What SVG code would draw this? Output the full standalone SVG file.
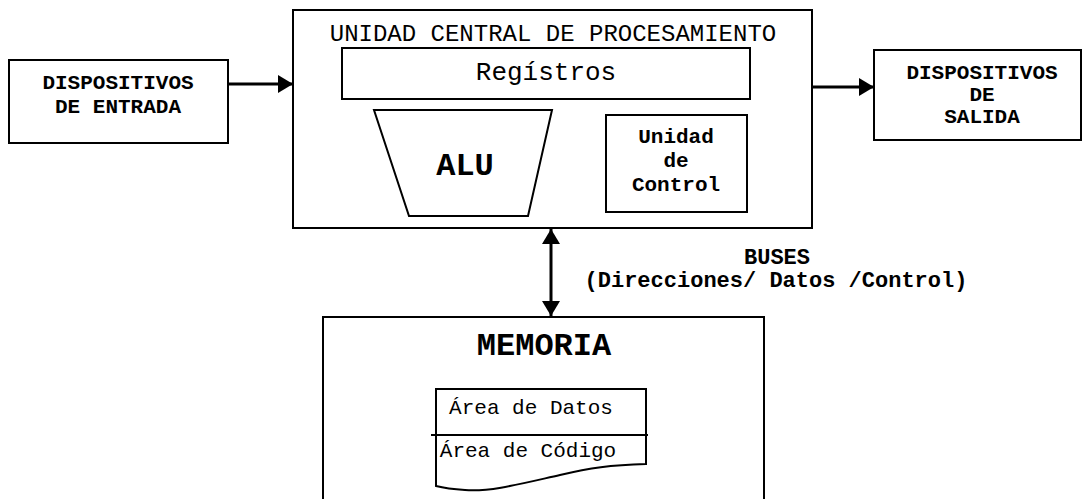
<svg xmlns="http://www.w3.org/2000/svg" width="1083" height="499" viewBox="0 0 1083 499">
<defs>
<style>
.box{fill:#fff;stroke:#000;stroke-width:2}
.t{font-family:"Liberation Mono","Courier New",monospace;fill:#000;text-anchor:middle}
.b{font-weight:bold}
.con{stroke:#000;stroke-width:3;fill:none}
</style>
<marker id="ah" markerUnits="userSpaceOnUse" markerWidth="16" markerHeight="18" refX="15" refY="9" orient="auto-start-reverse" viewBox="0 0 16 18">
<path d="M0,0 L15,9 L0,18 z" fill="#000"/>
</marker>
</defs>
<rect width="1083" height="499" fill="#fff"/>
<g id="entrada">
<rect class="box" x="9" y="60" width="219" height="83"/>
<text class="t b" x="118" y="89" font-size="21">DISPOSITIVOS</text>
<text class="t b" x="118" y="113" font-size="21">DE ENTRADA</text>
</g>
<g id="cpu">
<rect class="box" x="293" y="10" width="519" height="218"/>
<text class="t" x="553" y="41" font-size="24">UNIDAD CENTRAL DE PROCESAMIENTO</text>
</g>
<g id="registros">
<rect class="box" x="342" y="48" width="408" height="51"/>
<text class="t" x="546" y="80" font-size="26">Regístros</text>
</g>
<g id="alu">
<polygon class="box" points="374,110 552,110 528,216 409,216"/>
<text class="t b" x="465" y="175" font-size="32">ALU</text>
</g>
<g id="control">
<rect class="box" x="606" y="115" width="141" height="97"/>
<text class="t b" x="676" y="143" font-size="21">Unidad</text>
<text class="t b" x="676" y="167" font-size="21">de</text>
<text class="t b" x="676" y="191" font-size="21">Control</text>
</g>
<g id="salida">
<rect class="box" x="874" y="50" width="207" height="90"/>
<text class="t b" x="982" y="79" font-size="21">DISPOSITIVOS</text>
<text class="t b" x="982" y="101" font-size="21">DE</text>
<text class="t b" x="982" y="123" font-size="21">SALIDA</text>
</g>
<g id="memoria">
<rect class="box" x="323" y="317" width="441" height="200"/>
<text class="t b" x="544" y="355" font-size="32">MEMORIA</text>
</g>
<g id="areas">
<path class="box" d="M436,389 L646,389 L646,464 C610,465 590,468 560,475 C520,484 490,492 465,490 C450,489 440,487 436,486 Z"/>
<line x1="431" y1="435" x2="648" y2="435" stroke="#000" stroke-width="2"/>
<text class="t" x="531" y="414" font-size="21">Área de Datos</text>
<text class="t" x="528" y="457" font-size="21">Área de Código</text>
</g>
<g id="connectors">
<line class="con" x1="228" y1="84" x2="293" y2="84" marker-end="url(#ah)"/>
<line class="con" x1="812" y1="87" x2="874" y2="87" marker-end="url(#ah)"/>
<line class="con" x1="551" y1="229" x2="551" y2="316" marker-start="url(#ah)" marker-end="url(#ah)"/>
</g>
<g id="buses-label">
<text class="t b" x="777" y="264" font-size="22">BUSES</text>
<text class="t b" x="776" y="287" font-size="22">(Direcciones/ Datos /Control)</text>
</g>
</svg>
